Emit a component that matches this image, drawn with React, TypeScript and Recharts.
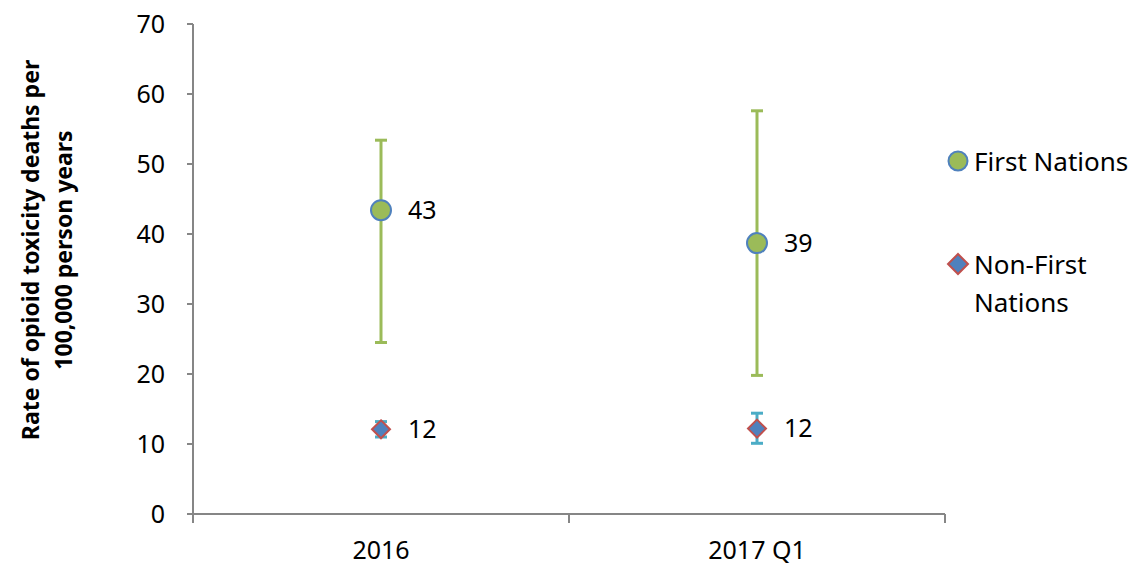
import { ComposedChart, Line, XAxis, YAxis, ErrorBar, LabelList, Legend } from 'recharts'

const categories = ['2016', '2017 Q1']
const firstNations = [43.4, 38.7]
const firstNationsLow = [24.5, 19.8]
const firstNationsHigh = [53.4, 57.6]
const nonFirstNations = [12.1, 12.2]
const nonFirstNationsLow = [11.0, 10.1]
const nonFirstNationsHigh = [13.2, 14.4]
const yTicks = [0, 10, 20, 30, 40, 50, 60, 70]

const data = categories.map((name, i) => ({
  name,
  fn: firstNations[i],
  fnErr: [firstNations[i] - firstNationsLow[i], firstNationsHigh[i] - firstNations[i]],
  nfn: nonFirstNations[i],
  nfnErr: [nonFirstNations[i] - nonFirstNationsLow[i], nonFirstNationsHigh[i] - nonFirstNations[i]],
}))

const W = 1141
const H = 567
const LEFT = 193
const RIGHT = 196
const PLOT_W = W - LEFT - RIGHT
const BAND_HALF = PLOT_W / categories.length / 2
const FONT = '"Noto Sans", sans-serif'
const AXIS = '#868686'
const GREEN = '#9BBB59'
const BLUE = '#4F81BD'
const RED = '#C0504D'
const CYAN = '#4BACC6'

const CircleDot = (props: any) => {
  const { cx, cy } = props
  if (cx == null || cy == null) return null
  return <circle cx={cx} cy={cy} r={10} fill={GREEN} stroke={BLUE} strokeWidth={2} />
}

const DiamondDot = (props: any) => {
  const { cx, cy } = props
  if (cx == null || cy == null) return null
  const r = 9
  return (
    <path
      d={`M${cx},${cy - r}L${cx + r},${cy}L${cx},${cy + r}L${cx - r},${cy}Z`}
      fill={BLUE}
      stroke={RED}
      strokeWidth={2}
    />
  )
}

const XTick = (props: any) => {
  const { x, y, payload, index } = props
  return (
    <g>
      <line x1={x - BAND_HALF} x2={x - BAND_HALF} y1={y} y2={y + 9} stroke={AXIS} strokeWidth={2} />
      {index === categories.length - 1 && (
        <line x1={x + BAND_HALF} x2={x + BAND_HALF} y1={y} y2={y + 9} stroke={AXIS} strokeWidth={2} />
      )}
      <text x={x} y={y + 45} textAnchor="middle" fontSize={25} fontFamily={FONT} fill="#000">
        {payload.value}
      </text>
    </g>
  )
}

const YLabel = () => (
  <text
    transform="translate(39, 250) rotate(-90)"
    textAnchor="middle"
    fontSize={23}
    fontWeight="bold"
    fontFamily={FONT}
    fill="#000"
  >
    <tspan x={0} dy={0}>Rate of opioid toxicity deaths per</tspan>
    <tspan x={0} dy={33}>100,000 person years</tspan>
  </text>
)

const renderLegend = () => (
  <div style={{ fontFamily: FONT, fontSize: 26, color: '#000', lineHeight: '38px' }}>
    <div style={{ display: 'flex', alignItems: 'flex-start' }}>
      <svg width={28} height={38}>
        <circle cx={12} cy={19} r={9.5} fill={GREEN} stroke={BLUE} strokeWidth={2} />
      </svg>
      <span>First Nations</span>
    </div>
    <div style={{ display: 'flex', alignItems: 'flex-start', marginTop: 65 }}>
      <svg width={28} height={38}>
        <path d="M12,9L22,19L12,29L2,19Z" fill={BLUE} stroke={RED} strokeWidth={2} />
      </svg>
      <span>Non-First<br />Nations</span>
    </div>
  </div>
)

const fmt = (v: any) => Math.round(Number(v)).toString()

const App = () => {
  return (
    <div style={{ position: 'absolute', left: 0, top: 0, width: W, height: H, background: '#fff' }}>
      <ComposedChart width={W} height={H} data={data} margin={{ top: 24, right: RIGHT, bottom: 0, left: 0 }}>
        <XAxis
          dataKey="name"
          scale="band"
          height={53}
          stroke={AXIS}
          strokeWidth={2}
          tickLine={false}
          tickSize={0}
          tickMargin={0}
          tick={<XTick />}
          interval={0}
        />
        <YAxis
          width={LEFT}
          domain={[0, 70]}
          ticks={yTicks}
          interval={0}
          stroke={AXIS}
          strokeWidth={2}
          tickSize={6}
          tickMargin={22}
          tick={{ fill: '#000', fontSize: 25, fontFamily: FONT }}
          label={<YLabel />}
        />
        <Legend
          layout="vertical"
          align="center"
          verticalAlign="middle"
          content={renderLegend}
          wrapperStyle={{ left: 946, top: 142, width: 195, right: 'auto', bottom: 'auto' }}
        />
        <Line
          dataKey="fn"
          name="First Nations"
          stroke="none"
          dot={<CircleDot />}
          activeDot={false}
          isAnimationActive={false}
        >
          <ErrorBar dataKey="fnErr" direction="y" width={6} stroke={GREEN} strokeWidth={3} />
          <LabelList dataKey="fn" position="right" offset={27} formatter={fmt} fill="#000" fontSize={25} fontFamily={FONT} />
        </Line>
        <Line
          dataKey="nfn"
          name="Non-First Nations"
          stroke="none"
          dot={<DiamondDot />}
          activeDot={false}
          isAnimationActive={false}
        >
          <ErrorBar dataKey="nfnErr" direction="y" width={6} stroke={CYAN} strokeWidth={3} />
          <LabelList dataKey="nfn" position="right" offset={27} formatter={fmt} fill="#000" fontSize={25} fontFamily={FONT} />
        </Line>
      </ComposedChart>
    </div>
  )
}

export default App
